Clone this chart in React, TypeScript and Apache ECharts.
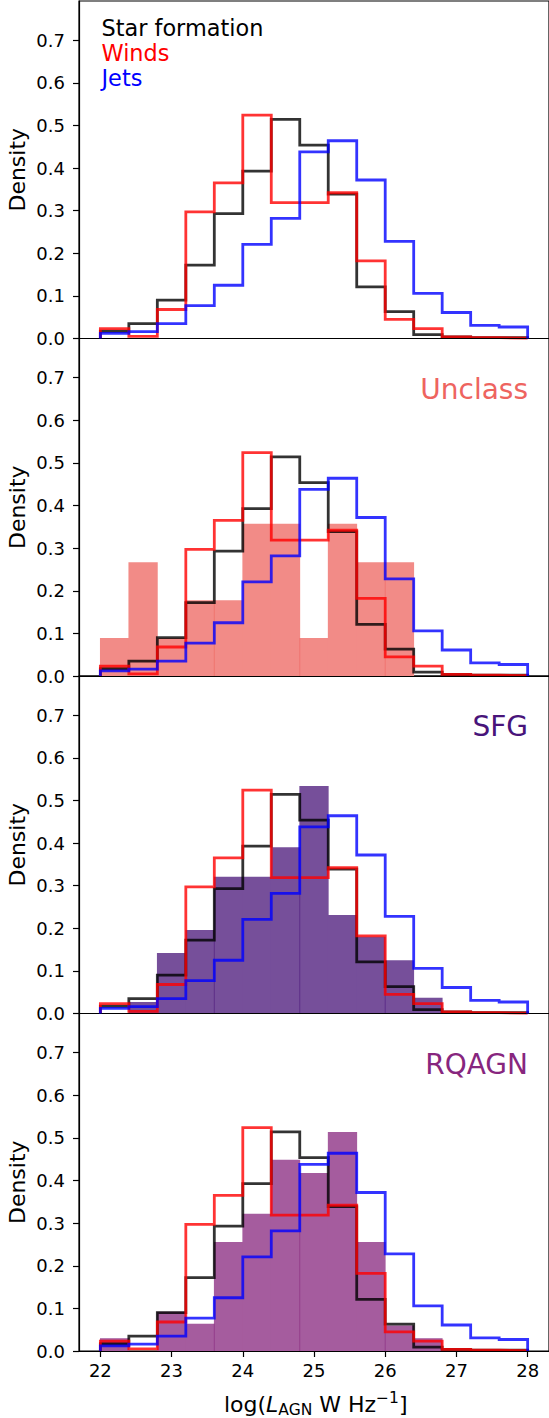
import React, { useEffect, useRef } from "react";
import * as echarts from "echarts";

// ---- data ----
const binEdges = [22.0, 22.4, 22.8, 23.2, 23.6, 24.0, 24.4, 24.8, 25.2, 25.6, 26.0, 26.4, 26.8, 27.2, 27.6, 28.0];
const starFormation = [0.017, 0.035, 0.09, 0.172, 0.293, 0.393, 0.514, 0.454, 0.339, 0.121, 0.063, 0.009, 0.004, 0.002, 0.002];
const winds = [0.023, 0.005, 0.068, 0.297, 0.365, 0.524, 0.319, 0.319, 0.342, 0.182, 0.045, 0.023, 0.004, 0.002, 0.001];
const jets = [0.012, 0.016, 0.035, 0.077, 0.125, 0.221, 0.282, 0.438, 0.464, 0.372, 0.228, 0.106, 0.061, 0.031, 0.027];
const unclass = [0.089, 0.267, 0.089, 0.178, 0.178, 0.357, 0.357, 0.089, 0.357, 0.267, 0.267, 0, 0, 0, 0];
const sfg = [0, 0.027, 0.142, 0.196, 0.321, 0.321, 0.39, 0.534, 0.231, 0.18, 0.125, 0.037, 0, 0, 0];
const rqagn = [0.03, 0, 0.092, 0.064, 0.256, 0.322, 0.449, 0.418, 0.514, 0.256, 0.06, 0.03, 0, 0, 0];
const xTicks = [22, 23, 24, 25, 26, 27, 28];
const yTicks = [0, 0.1, 0.2, 0.3, 0.4, 0.5, 0.6, 0.7];
const seamEdges = [23.6, 24.8, 26.0];

const FONT = "'DejaVu Sans', sans-serif";

const panels = [
  { label: "", values: null as number[] | null, color: "", fill: "" },
  { label: "Unclass", values: unclass, color: "#EE645F", fill: "#F28B87" },
  { label: "SFG", values: sfg, color: "#48147A", fill: "#764F9A" },
  { label: "RQAGN", values: rqagn, color: "#87267E", fill: "#A55C9E" },
];

const GRID_LEFT = 79;
const GRID_WIDTH = 473.5;
const PANEL_H = 337.5;
const PANEL_TOPS = [1, 338.5, 676, 1013.5];

function stepPoints(vals: number[]) {
  const pts: number[][] = [[binEdges[0], 0]];
  vals.forEach((v, i) => {
    pts.push([binEdges[i], v]);
    pts.push([binEdges[i + 1], v]);
  });
  pts.push([binEdges[binEdges.length - 1], 0]);
  return pts;
}

function buildOption() {
  const grid: any[] = [];
  const xAxis: any[] = [];
  const yAxis: any[] = [];
  const series: any[] = [];
  const graphic: any[] = [];
  const last = panels.length - 1;

  panels.forEach((p, g) => {
    grid.push({
      left: GRID_LEFT,
      width: GRID_WIDTH,
      top: PANEL_TOPS[g],
      height: PANEL_H,
      show: true,
      borderColor: "#000",
      borderWidth: 1.2,
      backgroundColor: "transparent",
    });
    xAxis.push({
      type: "value",
      gridIndex: g,
      min: 21.7,
      max: 28.3,
      z: 5,
      splitLine: { show: false },
      axisLine: { show: true, onZero: false, lineStyle: { color: "#000", width: 1.2 } },
      axisTick: {
        show: g === last,
        inside: false,
        length: 6,
        customValues: xTicks,
        lineStyle: { color: "#000", width: 1.2 },
      },
      axisLabel: {
        show: g === last,
        customValues: xTicks,
        fontSize: 18,
        fontFamily: FONT,
        color: "#000",
        margin: 10,
      },
    });
    yAxis.push({
      type: "value",
      gridIndex: g,
      min: 0,
      max: 0.792,
      interval: 0.1,
      splitLine: { show: false },
      axisLine: { show: true, lineStyle: { color: "#000", width: 1.2 } },
      axisTick: {
        show: true,
        inside: false,
        length: 6,
        customValues: yTicks,
        lineStyle: { color: "#000", width: 1.2 },
      },
      axisLabel: {
        customValues: yTicks,
        formatter: (v: number) => v.toFixed(1),
        fontSize: 18,
        fontFamily: FONT,
        color: "#000",
        margin: 14,
      },
    });

    if (p.values) {
      const vals = p.values;
      const color = p.color;
      const fill = p.fill;
      series.push({
        type: "custom",
        xAxisIndex: g,
        yAxisIndex: g,
        z: 1,
        encode: { x: [0, 1], y: 2 },
        data: vals.map((v, i) => [binEdges[i], binEdges[i + 1], v, i > 0 ? vals[i - 1] : 0]),
        renderItem: (params: any, api: any) => {
          const x0 = api.value(0);
          const x1 = api.value(1);
          const v = api.value(2);
          const prev = api.value(3);
          const children: any[] = [];
          if (v > 0) {
            const a = api.coord([x0, v]);
            const b = api.coord([x1, 0]);
            children.push({
              type: "rect",
              shape: { x: a[0] - 0.4, y: a[1], width: b[0] - a[0] + 0.8, height: b[1] - a[1] },
              style: { fill },
              z2: 0,
            });
          }
          const m = Math.min(v, prev);
          if (m > 0 && seamEdges.some((e) => Math.abs(e - x0) < 1e-6)) {
            const s0 = api.coord([x0, 0]);
            const s1 = api.coord([x0, m]);
            children.push({
              type: "line",
              shape: { x1: s0[0], y1: s0[1], x2: s1[0], y2: s1[1] },
              style: { stroke: color, lineWidth: 1, opacity: 0.55 },
              z2: 5,
            });
          }
          return { type: "group", children };
        },
      });
      graphic.push({
        type: "text",
        x: 528,
        y: PANEL_TOPS[g] + 50.5,
        style: {
          text: p.label,
          fontSize: 28,
          fontFamily: FONT,
          fill: color,
          align: "right",
          verticalAlign: "middle",
          textAlign: "right",
          textVerticalAlign: "middle",
        },
      });
    }

    const lines = [
      { vals: starFormation, color: "#000000", z: 3 },
      { vals: winds, color: "#ff0000", z: 4 },
      { vals: jets, color: "#0000ff", z: 5 },
    ];
    lines.forEach((l) => {
      series.push({
        type: "line",
        xAxisIndex: g,
        yAxisIndex: g,
        z: l.z,
        data: stepPoints(l.vals),
        showSymbol: false,
        symbol: "none",
        silent: true,
        lineStyle: { color: l.color, width: 2.8, opacity: 0.8, join: "miter", cap: "butt" },
      });
    });

    graphic.push({
      type: "text",
      x: 17.5,
      y: PANEL_TOPS[g] + PANEL_H / 2,
      rotation: Math.PI / 2,
      style: {
        text: "Density",
        fontSize: 22,
        fontFamily: FONT,
        fill: "#000",
        align: "center",
        verticalAlign: "middle",
        textAlign: "center",
        textVerticalAlign: "middle",
      },
    });
  });

  // legend-like texts in first panel
  const legendTexts = [
    { text: "Star formation", color: "#000000", y: 27.5 },
    { text: "Winds", color: "#ff0000", y: 52.5 },
    { text: "Jets", color: "#0000ff", y: 77.5 },
  ];
  legendTexts.forEach((t) => {
    graphic.push({
      type: "text",
      x: 101.5,
      y: t.y,
      style: {
        text: t.text,
        fontSize: 22.4,
        fontFamily: FONT,
        fill: t.color,
        align: "left",
        verticalAlign: "middle",
        textAlign: "left",
        textVerticalAlign: "middle",
      },
    });
  });

  // x-axis title with sub/superscript
  graphic.push({
    type: "text",
    x: GRID_LEFT + GRID_WIDTH / 2,
    y: 1404,
    style: {
      text: "{n|log(}{i|L}{s|AGN}{n| W Hz}{p|\u22121}{n|]}",
      fill: "#000",
      align: "center",
      verticalAlign: "middle",
      textAlign: "center",
      textVerticalAlign: "middle",
      rich: {
        n: { fontSize: 22, fontFamily: FONT, lineHeight: 22, fill: "#000" },
        i: { fontSize: 22, fontFamily: FONT, fontStyle: "italic", lineHeight: 22, fill: "#000" },
        s: { fontSize: 15.5, fontFamily: FONT, lineHeight: 16, padding: [12, 0, 0, 0], fill: "#000" },
        p: { fontSize: 15.5, fontFamily: FONT, lineHeight: 16, padding: [0, 0, 12, 0], fill: "#000" },
      },
    },
  });

  return {
    animation: false,
    backgroundColor: "#ffffff",
    grid,
    xAxis,
    yAxis,
    series,
    graphic,
  };
}

export default function App() {
  const ref = useRef<HTMLDivElement>(null);
  useEffect(() => {
    if (!ref.current) return;
    const chart = echarts.init(ref.current, null, { renderer: "svg" });
    chart.setOption(buildOption() as any);
    return () => chart.dispose();
  }, []);
  return (
    <div
      ref={ref}
      style={{ position: "absolute", left: 0, top: 0, width: 549, height: 1418, background: "#fff" }}
    />
  );
}
